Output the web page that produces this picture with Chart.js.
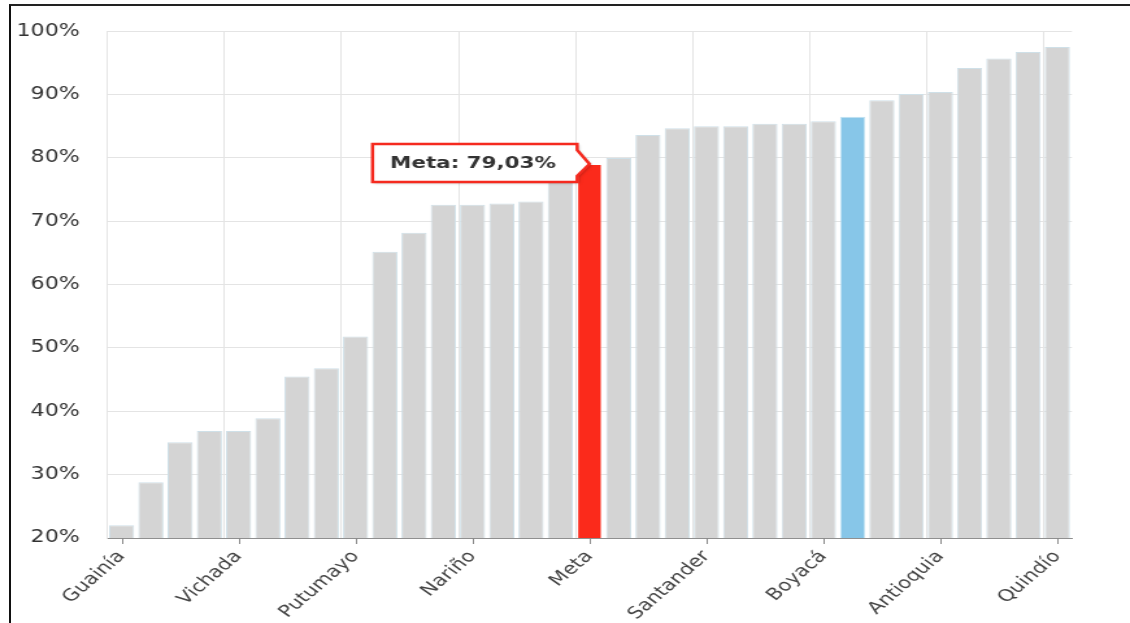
<!DOCTYPE html>
<html>
<head>
<meta charset="utf-8">
<script src="https://cdn.jsdelivr.net/npm/chart.js@4.4.1/dist/chart.umd.min.js"></script>
<style>
  html, body { margin: 0; padding: 0; background: #fff; overflow: hidden; }
  #moldura {
    position: absolute; left: 9px; top: 4px; right: -10px; bottom: -10px;
    border-left: 2px solid #111; border-top: 2px solid #222;
  }
  /* o gráfico original está esticado na horizontal */
  #caixa {
    position: absolute; left: 0; top: 0; width: 870px; height: 623px;
    transform: scaleX(1.29885); transform-origin: 0 0;
  }
</style>
</head>
<body>
<div id="caixa"><canvas id="grafico"></canvas></div>
<div id="moldura"></div>
<script>
// Departamentos (só os rótulos visíveis são conhecidos)
const departamentos = [
    "Guainía", "", "", "", "Vichada", "", "", "", "Putumayo", "", "", "",
    "Nariño", "", "", "", "Meta", "", "", "", "Santander", "", "", "",
    "Boyacá", "", "", "", "Antioquia", "", "", "", "Quindío"
];
const porcentagens = [
    22.0, 28.8, 35.1, 36.9, 36.9, 38.9, 45.5, 46.8, 51.8, 65.2, 68.2,
    72.6, 72.6, 72.8, 73.1, 77.0, 79.03, 80.0, 83.6, 84.7, 85.0, 85.0,
    85.4, 85.4, 85.8, 86.5, 89.1, 90.1, 90.4, 94.2, 95.7, 96.7, 97.5
];
const ticksY = [20, 30, 40, 50, 60, 70, 80, 90, 100];
const indiceMeta = 16;      // barra vermelha
const indiceDestaque = 25;  // barra azul
const textoMeta = "Meta: 79,03%";

const cores = porcentagens.map((v, i) =>
    i === indiceMeta ? "#fb2a1b" : (i === indiceDestaque ? "#87c6e8" : "#d4d4d4"));
const bordas = porcentagens.map((v, i) =>
    i === indiceMeta ? "#ffffff" : (i === indiceDestaque ? "#c2e2f2" : "#cfe0e8"));

const fonte = "'DejaVu Sans', Verdana, sans-serif";

const extras = {
    id: "extras",
    // linhas verticais na borda esquerda de cada categoria rotulada
    beforeDatasetsDraw(chart) {
        const ctx = chart.ctx;
        const area = chart.chartArea;
        const xs = chart.scales.x;
        const meio = (xs.getPixelForValue(1) - xs.getPixelForValue(0)) / 2;
        ctx.save();
        ctx.strokeStyle = "#e4e4e4";
        ctx.lineWidth = 1;
        departamentos.forEach((d, i) => {
            if (i % 4 !== 0) return;
            const x = Math.round(xs.getPixelForValue(i) - meio) + 0.5;
            ctx.beginPath();
            ctx.moveTo(x, area.top);
            ctx.lineTo(x, area.bottom);
            ctx.stroke();
        });
        ctx.restore();
    },
    // marcas do eixo x no centro das barras + balão da meta
    afterDatasetsDraw(chart) {
        const ctx = chart.ctx;
        const area = chart.chartArea;
        const xs = chart.scales.x;
        ctx.save();
        ctx.strokeStyle = "#8a8a8a";
        ctx.lineWidth = 1;
        departamentos.forEach((d, i) => {
            if (i % 4 !== 0) return;
            const x = Math.round(xs.getPixelForValue(i)) + 0.5;
            ctx.beginPath();
            ctx.moveTo(x, area.bottom);
            ctx.lineTo(x, area.bottom + 6);
            ctx.stroke();
        });

        const barra = chart.getDatasetMeta(0).data[indiceMeta];
        const tipX = barra.x, tipY = barra.y;
        const dir = tipX - 9.5, esq = dir - 157.5;
        const topo = tipY - 20, base = tipY + 18;
        ctx.beginPath();
        ctx.moveTo(esq, topo);
        ctx.lineTo(dir, topo);
        ctx.lineTo(dir, topo + 6);
        ctx.lineTo(tipX, tipY);
        ctx.lineTo(dir, base - 6);
        ctx.lineTo(dir, base);
        ctx.lineTo(esq, base);
        ctx.closePath();
        ctx.shadowColor = "rgba(0,0,0,0.35)";
        ctx.shadowBlur = 3;
        ctx.shadowOffsetX = 1;
        ctx.shadowOffsetY = 1;
        ctx.fillStyle = "#ffffff";
        ctx.fill();
        ctx.shadowColor = "transparent";
        ctx.strokeStyle = "#f52a1f";
        ctx.lineWidth = 2.5;
        ctx.stroke();
        ctx.fillStyle = "#333333";
        ctx.font = "bold 16.5px " + fonte;
        ctx.textBaseline = "middle";
        ctx.textAlign = "left";
        ctx.fillText(textoMeta, esq + 13.5, tipY);
        ctx.restore();
    }
};

new Chart(document.getElementById("grafico"), {
    type: "bar",
    data: {
        labels: departamentos,
        datasets: [{
            data: porcentagens,
            backgroundColor: cores,
            borderColor: bordas,
            borderWidth: 1,
            categoryPercentage: 1,
            barPercentage: 0.86
        }]
    },
    options: {
        responsive: true,
        maintainAspectRatio: false,
        animation: false,
        layout: { padding: { top: 30, right: 44.7, left: 0, bottom: 0 } },
        plugins: { legend: { display: false }, tooltip: { enabled: false } },
        scales: {
            x: {
                afterFit: (s) => { s.height = 85; },
                grid: { color: "rgba(0,0,0,0)", drawTicks: false },
                border: { color: "#8f8f8f" },
                ticks: {
                    autoSkip: false,
                    minRotation: 48,
                    maxRotation: 48,
                    padding: 9,
                    color: "#444",
                    font: { family: fonte, size: 16.5 },
                    callback: (v, i) => (i % 4 === 0 ? departamentos[i] : null)
                }
            },
            y: {
                min: 20,
                max: 100,
                afterFit: (s) => { s.width = 82.4; },
                afterBuildTicks: (s) => { s.ticks = ticksY.map(v => ({ value: v })); },
                grid: { color: "#e4e4e4", drawTicks: false },
                border: { color: "#e4e4e4" },
                ticks: {
                    padding: 21,
                    color: "#333",
                    font: { family: fonte, size: 17 },
                    callback: (v) => v + "%"
                }
            }
        }
    },
    plugins: [extras]
});
</script>
</body>
</html>
